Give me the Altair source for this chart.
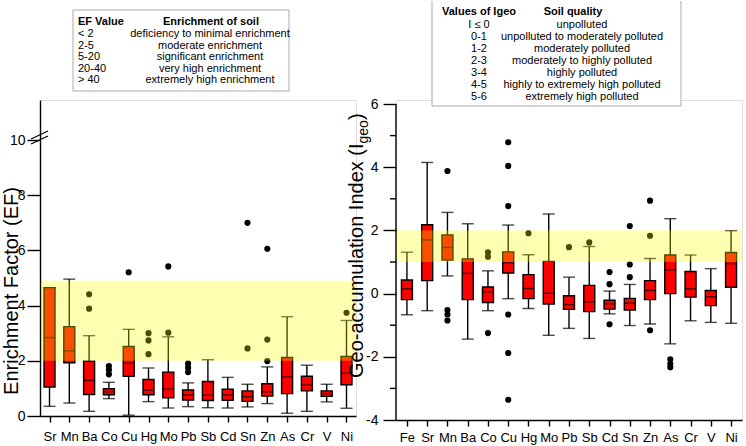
import altair as alt
import pandas as pd

# ---------------- Enrichment factor (EF) ----------------
ef_elements = ["Sr", "Mn", "Ba", "Co", "Cu", "Hg", "Mo", "Pb", "Sb", "Cd",
               "Sn", "Zn", "As", "Cr", "V", "Ni"]
ef_low = [0.35, 0.47, 0.17, 0.63, 0.03, 0.52, 0.29, 0.34, 0.30, 0.29,
          0.33, 0.45, 0.10, 0.17, 0.51, 0.28]
ef_q1 = [1.05, 1.93, 0.78, 0.77, 1.44, 0.77, 0.66, 0.58, 0.56, 0.57,
         0.53, 0.72, 0.81, 0.91, 0.71, 1.13]
ef_median = [2.84, 2.36, 1.29, 0.88, 1.91, 0.94, 0.97, 0.76, 0.75, 0.76,
             0.70, 0.88, 1.41, 1.12, 0.81, 1.55]
ef_q3 = [4.65, 3.24, 1.99, 0.99, 2.52, 1.32, 1.59, 0.94, 1.25, 0.97,
         0.91, 1.17, 2.12, 1.44, 0.91, 2.16]
ef_high = [4.65, 4.96, 2.91, 1.22, 3.14, 1.74, 2.87, 1.20, 2.04, 1.40,
           1.15, 1.78, 3.60, 1.84, 1.15, 3.46]
ef_outliers = {
    "Ba": [4.41, 3.89],
    "Co": [1.81, 1.67, 1.51],
    "Cu": [5.21],
    "Hg": [3.00, 2.74, 2.24],
    "Mo": [5.42, 3.02],
    "Pb": [1.90, 1.75, 1.59],
    "Sn": [7.00, 2.45],
    "Zn": [6.06, 2.77, 1.99],
    "Ni": [3.74],
}
ef_band = [2.0, 4.9]
ef_ticks = [0, 2, 4, 6, 8, 10]

ef_table_ranges = ["< 2", "2-5", "5-20", "20-40", "> 40"]
ef_table_classes = ["deficiency to minimal enrichment", "moderate enrichment",
                    "significant enrichment", "very high enrichment",
                    "extremely high enrichment"]

# ---------------- Geo-accumulation index (Igeo) ----------------
igeo_elements = ["Fe", "Sr", "Mn", "Ba", "Co", "Cu", "Hg", "Mo", "Pb", "Sb",
                 "Cd", "Sn", "Zn", "As", "Cr", "V", "Ni"]
igeo_low = [-0.67, -0.54, 0.56, -1.44, -0.54, -0.16, -0.47, -1.32, -1.10, -1.42,
            -0.64, -1.01, -0.96, -1.59, -0.86, -0.91, -0.94]
igeo_q1 = [-0.19, 0.41, 1.06, -0.19, -0.28, 0.65, -0.16, -0.33, -0.50, -0.57,
           -0.49, -0.52, -0.19, 0.00, -0.11, -0.38, 0.20]
igeo_median = [0.15, 1.70, 1.46, 0.64, 0.06, 0.98, 0.16, 0.01, -0.35, -0.26,
               -0.32, -0.30, 0.10, 0.75, 0.15, -0.10, 0.95]
igeo_q3 = [0.43, 2.18, 1.86, 1.10, 0.21, 1.32, 0.60, 1.02, -0.07, 0.26,
           -0.21, -0.15, 0.41, 1.22, 0.70, 0.10, 1.30]
igeo_high = [1.31, 4.15, 2.57, 2.21, 0.72, 2.17, 1.23, 2.52, 0.52, 1.49,
             0.08, 0.29, 1.11, 2.37, 1.22, 0.79, 1.99]
igeo_outliers = {
    "Mn": [3.88, -0.52, -0.66, -0.85],
    "Co": [1.31, 1.17, -1.25],
    "Cu": [4.79, 4.04, 2.77, -0.66, -1.88, -3.36],
    "Hg": [1.91],
    "Pb": [1.47],
    "Sb": [1.62],
    "Cd": [0.68, 0.30, -0.97],
    "Sn": [2.14, 0.92, 0.52],
    "Zn": [2.94, 1.83, -1.16],
    "As": [-2.08, -2.22, -2.33],
}
igeo_band = [1.0, 2.0]
igeo_major_ticks = [-4, -2, 0, 2, 4, 6]
igeo_minor_ticks = [-3, -1, 1, 3, 5]

igeo_table_ranges = ["I \u2264 0", "0-1", "1-2", "2-3", "3-4", "4-5", "5-6"]
igeo_table_classes = ["unpolluted", "unpolluted to moderately polluted",
                      "moderately polluted", "moderately to highly polluted",
                      "highly polluted", "highly to extremely high polluted",
                      "extremely high polluted"]

FONT = "Liberation Sans"
one_row = pd.DataFrame({"k": [0]})


def stats_frame(elements, low, q1, med, q3, high):
    return pd.DataFrame({"element": elements, "lo": low, "q1": q1,
                         "med": med, "q3": q3, "hi": high})


def outlier_frame(outliers):
    rows = [(e, v) for e, vals in outliers.items() for v in vals]
    return pd.DataFrame(rows, columns=["element", "value"])


def box_panel(stats, outl, order, band, yscale, yaxis, pad, label_pad):
    x = alt.X("element:N", sort=order, title=None,
              scale=alt.Scale(type="point", padding=pad),
              axis=alt.Axis(labelFontSize=13, labelColor="black", labelFont=FONT,
                            tickSize=6, tickWidth=1.4, tickColor="black",
                            domainColor="black", domainWidth=1.4, title=None,
                            labelPadding=label_pad, labelAngle=0, zindex=1))

    def y(field):
        return alt.Y(field, scale=yscale, axis=yaxis, title=None)

    base = alt.Chart(stats)
    whisker = base.mark_rule(color="black", strokeWidth=1.4).encode(
        x=x, y=y("lo:Q"), y2="hi:Q")
    cap_lo = base.mark_tick(color="black", size=12, thickness=1.4).encode(
        x=x, y=y("lo:Q"))
    cap_hi = base.mark_tick(color="black", size=12, thickness=1.4).encode(
        x=x, y=y("hi:Q"))
    box = base.mark_bar(size=11, fill="#FF0000", stroke="black",
                        strokeWidth=1.4).encode(x=x, y=y("q1:Q"), y2="q3:Q")
    median = base.mark_tick(color="black", size=11, thickness=1.5).encode(
        x=x, y=y("med:Q"))
    points = alt.Chart(outl).mark_circle(color="black", size=38, opacity=1).encode(
        x=x, y=y("value:Q"))
    shade = alt.Chart(pd.DataFrame({"lo": [band[0]], "hi": [band[1]]})).mark_rect(
        color="#FFFF00", opacity=0.3).encode(y=y("lo:Q"), y2="hi:Q")
    return [whisker, cap_lo, cap_hi, box, median, points, shade]


def text_block(lines, x, y, align, line_height, bold=False):
    return alt.Chart(one_row).mark_text(
        align=align, baseline="alphabetic", font=FONT, fontSize=11,
        fontWeight="bold" if bold else "normal", color="black",
        lineHeight=line_height).encode(
        x=alt.value(x), y=alt.value(y), text=alt.value(lines))


# ---------------- left panel ----------------
ef_stats = stats_frame(ef_elements, ef_low, ef_q1, ef_median, ef_q3, ef_high)
ef_out = outlier_frame(ef_outliers)
ef_yaxis = alt.Axis(values=ef_ticks, labelFontSize=14, labelColor="black", labelFont=FONT,
                    tickSize=13, tickWidth=1.4, tickColor="black", domainColor="black",
                    domainWidth=1.4, labelPadding=2, grid=False, zindex=1, title=None)
ef_layers = box_panel(ef_stats, ef_out, ef_elements, ef_band,
                      alt.Scale(domain=[0, 11.45], nice=False, zero=False),
                      ef_yaxis, 0.48, 8)

# axis break marks at the top of the EF axis
ef_break = [
    alt.Chart(one_row).mark_rule(color="black", strokeWidth=1.3).encode(
        x=alt.value(-9), x2=alt.value(8), y=alt.value(39), y2=alt.value(31)),
    alt.Chart(one_row).mark_rule(color="black", strokeWidth=1.3).encode(
        x=alt.value(-9), x2=alt.value(8), y=alt.value(44), y2=alt.value(36)),
]
ef_title = alt.Chart(one_row).mark_text(
    angle=270, align="center", baseline="alphabetic", font=FONT, fontSize=20,
    color="black").encode(x=alt.value(-22), y=alt.value(191),
                          text=alt.value("Enrichment Factor (EF)"))
ef_table = [
    alt.Chart(one_row).mark_rect(fill="white", stroke="#AAAAAA", strokeWidth=1).encode(
        x=alt.value(33), x2=alt.value(249), y=alt.value(-90), y2=alt.value(-9)),
    text_block("EF Value", 38, -75.5, "left", 11.6, bold=True),
    text_block("Enrichment of soil", 171, -75.5, "center", 11.6, bold=True),
    text_block(ef_table_ranges, 38, -63, "left", 11.6),
    text_block(ef_table_classes, 170, -63, "center", 11.6),
]
left = alt.layer(*ef_layers, *ef_break, ef_title, *ef_table).properties(
    width=316, height=316)

# ---------------- right panel ----------------
igeo_stats = stats_frame(igeo_elements, igeo_low, igeo_q1, igeo_median, igeo_q3, igeo_high)
igeo_out = outlier_frame(igeo_outliers)
igeo_yaxis = alt.Axis(values=igeo_major_ticks, labelFontSize=14, labelColor="black",
                      labelFont=FONT, tickSize=13, tickWidth=1.4, tickColor="black",
                      domain=False, labelPadding=5, grid=False, zindex=1, title=None,
                      labelExpr="'' + datum.value")
igeo_layers = box_panel(igeo_stats, igeo_out, igeo_elements, igeo_band,
                        alt.Scale(domain=[-4, 6.127], nice=False, zero=False),
                        igeo_yaxis, 0.54, 5)
igeo_axis_line = alt.Chart(one_row).mark_rule(color="black", strokeWidth=1.4).encode(
    x=alt.value(0), y=alt.datum(-4), y2=alt.datum(6))
igeo_minor = alt.Chart(pd.DataFrame({"v": igeo_minor_ticks})).mark_rule(
    color="black", strokeWidth=1.4).encode(
    x=alt.value(-6), x2=alt.value(0), y=alt.Y("v:Q", title=None))

# axis title with subscript "geo"
igeo_title = [
    alt.Chart(one_row).mark_text(angle=270, align="left", baseline="alphabetic",
                                 font=FONT, fontSize=20, color="black").encode(
        x=alt.value(-33), y=alt.value(278),
        text=alt.value("Geo-accumulation Index (I")),
    alt.Chart(one_row).mark_text(angle=270, align="left", baseline="alphabetic",
                                 font=FONT, fontSize=14, color="black").encode(
        x=alt.value(-28), y=alt.value(43.5), text=alt.value("geo")),
    alt.Chart(one_row).mark_text(angle=270, align="left", baseline="alphabetic",
                                 font=FONT, fontSize=20, color="black").encode(
        x=alt.value(-33), y=alt.value(20), text=alt.value(")")),
]
igeo_table = [
    alt.Chart(one_row).mark_rect(fill="white", strokeWidth=0).encode(
        x=alt.value(36), x2=alt.value(285), y=alt.value(-99), y2=alt.value(6)),
    alt.Chart(one_row).mark_rule(color="#AAAAAA", strokeWidth=1).encode(
        x=alt.value(36), y=alt.value(-99), y2=alt.value(6)),
    alt.Chart(one_row).mark_rule(color="#AAAAAA", strokeWidth=1).encode(
        x=alt.value(285), y=alt.value(-99), y2=alt.value(6)),
    alt.Chart(one_row).mark_rule(color="#AAAAAA", strokeWidth=1).encode(
        x=alt.value(36), x2=alt.value(285), y=alt.value(6)),
    text_block("Values of Igeo", 83, -85.5, "center", 12.1, bold=True),
    text_block("Soil quality", 177, -85.5, "center", 12.1, bold=True),
    text_block(igeo_table_ranges, 83, -72.5, "center", 12.1),
    text_block(igeo_table_classes, 186, -72.5, "center", 12.1),
]
right = alt.layer(*igeo_layers, igeo_axis_line, igeo_minor, *igeo_title,
                  *igeo_table).properties(width=346, height=320)

chart = alt.hconcat(left, right, spacing=-11).properties(
    padding={"left": 1, "top": 0, "right": 0, "bottom": 0}
).configure_view(stroke=None).configure(font=FONT)

chart.save("out.html", embed_options={"renderer": "svg", "actions": False})
